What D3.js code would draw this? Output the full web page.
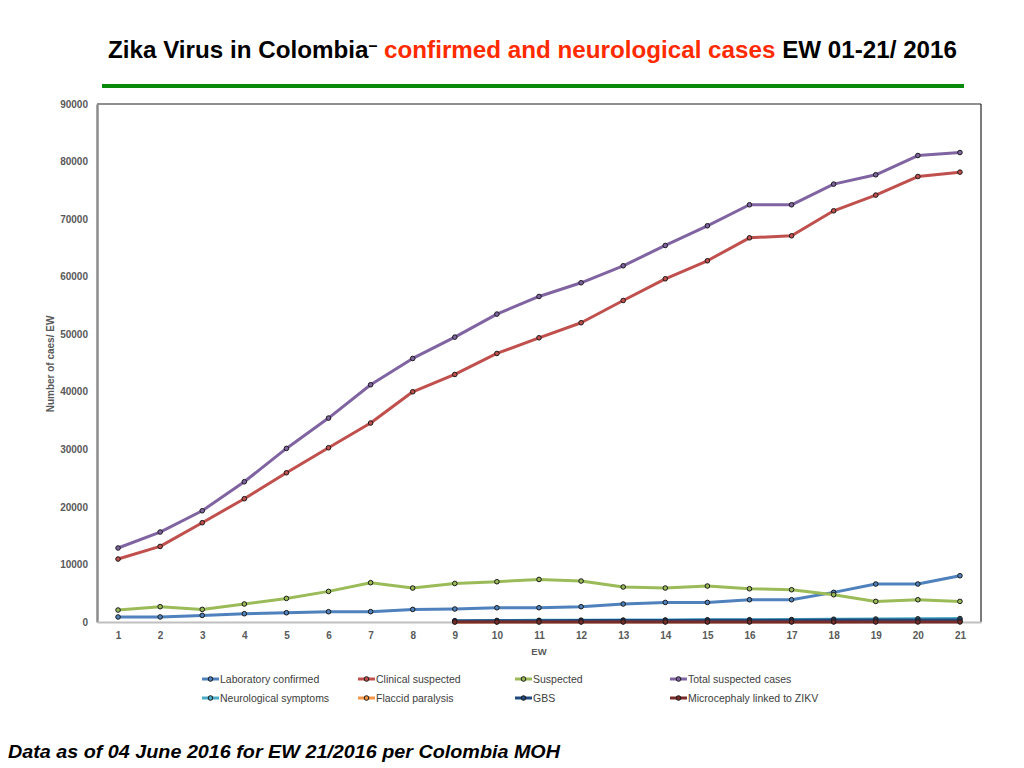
<!DOCTYPE html>
<html>
<head>
<meta charset="utf-8">
<script src="https://cdn.jsdelivr.net/npm/d3@7.9.0/dist/d3.min.js"></script>
<style>
  body { margin: 0; background: #fff; }
  svg { display: block; font-family: "Liberation Sans", Arial, sans-serif; }
</style>
</head>
<body>
<svg id="chart" width="1024" height="768"></svg>
<script>
// epidemiological weeks
const weeks = d3.range(1, 22);
const neuroWeeks = d3.range(9, 22);

// cumulative case counts
const labConfirmed = [870, 880, 1150, 1440, 1610, 1790, 1800, 2190, 2260, 2480, 2480, 2660, 3130, 3400, 3400, 3870, 3870, 5150, 6600, 6600, 8040];
const clinicalSuspected = [10940, 13130, 17250, 21420, 25930, 30280, 34570, 40000, 43010, 46660, 49380, 51990, 55860, 59630, 62760, 66750, 67100, 71440, 74170, 77400, 78160];
const suspected = [2080, 2660, 2190, 3130, 4100, 5320, 6830, 5900, 6700, 7000, 7400, 7120, 6080, 5900, 6250, 5780, 5610, 4740, 3580, 3870, 3580];
const totalSuspected = [12860, 15630, 19330, 24370, 30160, 35430, 41220, 45790, 49500, 53500, 56560, 58940, 61890, 65420, 68840, 72490, 72490, 76080, 77700, 81050, 81570];

// neurological series, from EW 9 on
const neuroSymptoms = [230, 270, 290, 310, 330, 350, 380, 400, 420, 480, 520, 560, 600];
const flaccidParalysis = [20, 25, 30, 35, 40, 45, 50, 55, 60, 65, 70, 75, 80];
const gbs = [160, 200, 230, 250, 270, 280, 300, 310, 320, 330, 340, 350, 360];
const microcephaly = [0, 0, 0, 2, 2, 3, 3, 4, 4, 5, 5, 6, 7];

const series = [
  { name: 'Laboratory confirmed', color: '#4f81bd', x: weeks, values: labConfirmed },
  { name: 'Clinical suspected', color: '#c0504d', x: weeks, values: clinicalSuspected },
  { name: 'Suspected', color: '#9bbb59', x: weeks, values: suspected },
  { name: 'Total suspected cases', color: '#8064a2', x: weeks, values: totalSuspected },
  { name: 'Neurological symptoms', color: '#4bacc6', x: neuroWeeks, values: neuroSymptoms },
  { name: 'Flaccid paralysis', color: '#f79646', x: neuroWeeks, values: flaccidParalysis },
  { name: 'GBS', color: '#1f497d', x: neuroWeeks, values: gbs },
  { name: 'Microcephaly linked to ZIKV', color: '#772c2a', x: neuroWeeks, values: microcephaly }
];

const yTicks = d3.range(0, 90001, 10000);

const svg = d3.select('#chart');
const plotLeft = 97, plotRight = 981, plotTop = 104, plotBottom = 622;

// title (condensed look: big font squeezed into the reference width)
const title = svg.append('text')
  .attr('x', 108).attr('y', 58)
  .attr('font-size', 24).attr('font-weight', 'bold')
  .attr('textLength', 849).attr('lengthAdjust', 'spacingAndGlyphs');
title.append('tspan').attr('fill', '#000').text('Zika Virus in Colombia');
title.append('tspan').attr('fill', '#000').attr('dy', -7).attr('font-size', 16).text('–');
title.append('tspan').attr('fill', '#ff2a00').attr('dy', 7).text('  confirmed and neurological cases');
title.append('tspan').attr('fill', '#000').text(' EW 01-21/ 2016');

svg.append('line')
  .attr('x1', 102).attr('x2', 964).attr('y1', 86).attr('y2', 86)
  .attr('stroke', '#0a8a0a').attr('stroke-width', 4);

// scales
const x = d3.scalePoint().domain(weeks).range([plotLeft, plotRight]).padding(0.5);
const y = d3.scaleLinear().domain([0, 90000]).range([plotBottom, plotTop]);

// frame
svg.append('line').attr('x1', plotLeft).attr('x2', plotRight).attr('y1', plotTop).attr('y2', plotTop)
  .attr('stroke', '#222').attr('stroke-width', 1.2);
svg.append('line').attr('x1', plotRight).attr('x2', plotRight).attr('y1', plotTop).attr('y2', plotBottom)
  .attr('stroke', '#222').attr('stroke-width', 1.2);

// axes
const yAxis = svg.append('g')
  .attr('transform', `translate(${plotLeft},0)`)
  .call(d3.axisLeft(y).tickValues(yTicks).tickSize(0).tickPadding(9).tickFormat(d3.format('d')));
yAxis.select('.domain').attr('stroke', '#8c8c8c').attr('stroke-width', 2.5);
yAxis.selectAll('text').attr('fill', '#595959').attr('font-size', 10).attr('font-weight', 'bold')
  .attr('font-family', '"Liberation Sans", Arial, sans-serif');

const xAxis = svg.append('g')
  .attr('transform', `translate(0,${plotBottom})`)
  .call(d3.axisBottom(x).tickSize(0).tickPadding(10));
xAxis.select('.domain').attr('stroke', '#c0c0c0').attr('stroke-width', 2);
xAxis.selectAll('text').attr('fill', '#595959').attr('font-size', 10).attr('font-weight', 'bold')
  .attr('font-family', '"Liberation Sans", Arial, sans-serif');

svg.append('text')
  .attr('x', x(11)).attr('y', 655).attr('text-anchor', 'middle')
  .attr('font-size', 9.5).attr('font-weight', 'bold').attr('fill', '#595959')
  .text('EW');

svg.append('text')
  .attr('transform', 'translate(54,364) rotate(-90)').attr('text-anchor', 'middle')
  .attr('font-size', 10).attr('font-weight', 'bold').attr('fill', '#595959')
  .text('Number of caes/ EW');

// lines and markers
const line = d3.line().x(d => x(d[0])).y(d => y(d[1]));

series.forEach(s => {
  const pts = s.x.map((w, i) => [w, s.values[i]]);
  const g = svg.append('g');
  g.append('path')
    .attr('d', line(pts))
    .attr('fill', 'none')
    .attr('stroke', s.color)
    .attr('stroke-width', 3)
    .attr('stroke-linejoin', 'round');
  g.selectAll('circle')
    .data(pts)
    .join('circle')
    .attr('cx', d => x(d[0]))
    .attr('cy', d => y(d[1]))
    .attr('r', 2.3)
    .attr('fill', s.color)
    .attr('stroke', '#1a1a1a')
    .attr('stroke-width', 1);
});

// legend
const legendX = [202, 358, 515, 670];
const legendY = [679, 698];
series.forEach((s, i) => {
  const lx = legendX[i % 4], ly = legendY[Math.floor(i / 4)];
  const g = svg.append('g').attr('transform', `translate(${lx},${ly})`);
  g.append('line').attr('x1', 0).attr('x2', 17).attr('y1', 0).attr('y2', 0)
    .attr('stroke', s.color).attr('stroke-width', 3);
  g.append('circle').attr('cx', 8.5).attr('cy', 0).attr('r', 2.3)
    .attr('fill', s.color).attr('stroke', '#1a1a1a').attr('stroke-width', 1);
  g.append('text').attr('x', 18).attr('y', 3.6)
    .attr('font-size', 10.5).attr('fill', '#404040')
    .text(s.name);
});

// footnote
svg.append('text')
  .attr('x', 8).attr('y', 758)
  .attr('font-size', 18).attr('font-weight', 'bold').attr('font-style', 'italic')
  .attr('fill', '#000')
  .attr('textLength', 552).attr('lengthAdjust', 'spacingAndGlyphs')
  .text('Data as of 04 June 2016 for EW 21/2016 per Colombia MOH');
</script>
</body>
</html>
